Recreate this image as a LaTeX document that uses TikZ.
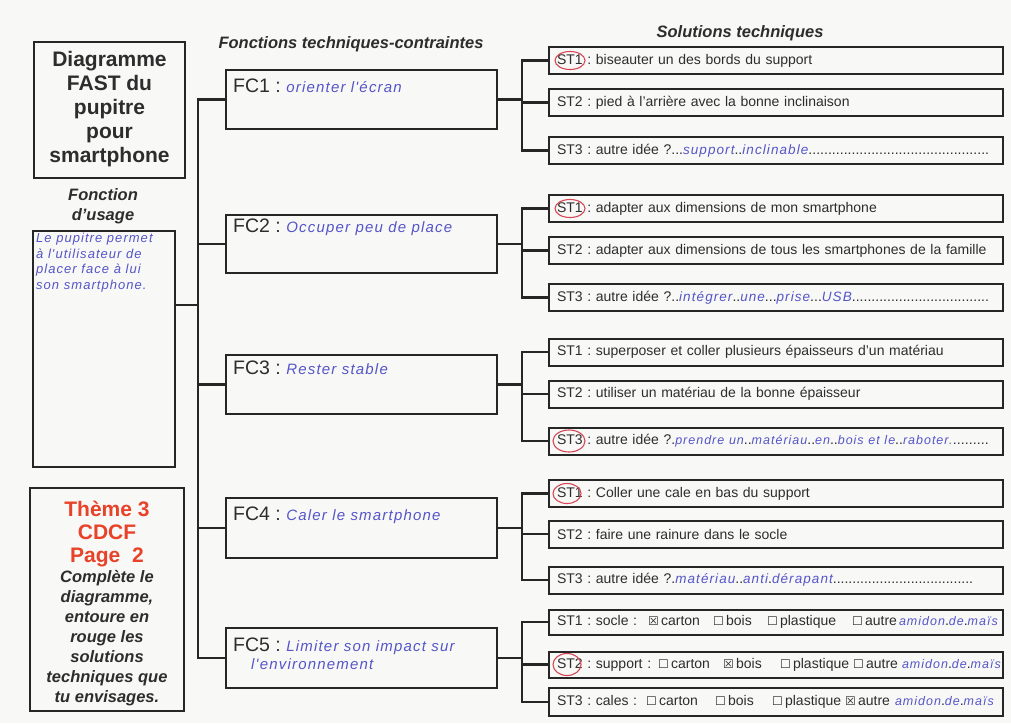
\documentclass[tikz,border=0pt]{standalone}
\usepackage{fontspec}
\setmainfont{Liberation Sans}
\newfontfamily\symfont{DejaVu Sans}
\newfontfamily\handfont[LetterSpace=8]{Liberation Sans}
\frenchspacing
\definecolor{bg}{RGB}{248,248,247}
\definecolor{ink}{RGB}{45,45,45}
\definecolor{lin}{RGB}{38,38,38}
\definecolor{hand}{RGB}{85,85,200}
\definecolor{redt}{RGB}{232,66,40}
\definecolor{redc}{RGB}{215,70,85}
\newcommand{\hwl}[1]{{\handfont\itshape\fontsize{15}{17}\selectfont\color{hand}#1}}
\newcommand{\hw}[1]{{\handfont\itshape\fontsize{13.5}{15}\selectfont\color{hand}#1}}
\newcommand{\hwsm}[1]{{\handfont\itshape\fontsize{12.5}{13}\selectfont\color{hand}#1}}
\newcommand{\cbo}{{\symfont\fontsize{12}{14}\selectfont\char"2610}}
\newcommand{\cbx}{{\symfont\fontsize{12}{14}\selectfont\char"2612}}
\newcommand{\dfill}{\xleaders\hbox{.}\hfill}
\tikzset{
  box/.style={draw=lin, line width=2pt, inner sep=0pt},
  fcbox/.style={box, minimum width=271pt},
  stbox/.style={box, minimum width=454pt, minimum height=27pt, text width=438pt, inner xsep=8pt, align=left, text=ink, font=\fontsize{14}{16}\selectfont},
  fclabel/.style={anchor=north west, inner sep=0pt, align=left, text=ink, font=\fontsize{19.5}{20}\selectfont},
  hdr/.style={inner sep=0pt, text=ink, font=\fontsize{16.5}{19.5}\selectfont\bfseries\itshape, align=center},
  conn/.style={draw=lin, line width=2.6pt},
  circ/.style={draw=redc, line width=1.1pt},
}
\begin{document}
\begin{tikzpicture}[x=1pt,y=-1pt]
\fill[bg] (0,0) rectangle (1011,723);
\useasboundingbox (0,0) rectangle (1011,723);

% left column
\node[box, minimum width=151pt, minimum height=136pt, align=center, text=ink, font=\fontsize{21}{24}\selectfont\bfseries] (title) at (109.5,109.5) {Diagramme\\FAST du\\pupitre\\pour\\smartphone};
\node[hdr] (usagehead) at (103,206) {Fonction\\d'usage};
\node[box, minimum width=142pt, minimum height=236pt] (usage) at (104,349) {};
\node[anchor=north west, inner sep=0pt, align=left, text=hand, font=\handfont\itshape\fontsize{13}{15.5}\selectfont] (usaget) at ([xshift=4pt,yshift=-3pt]usage.north west) {Le pupitre permet\\à l'utilisateur de\\placer face à lui\\son smartphone.};
\node[box, minimum width=154pt, minimum height=223pt] (theme) at (107,599.5) {};
\node[inner sep=0pt, align=center, text=redt, font=\fontsize{21}{23}\selectfont\bfseries] (themer) at (107,534) {Thème 3\\CDCF\\Page\ \ 2};
\node[inner sep=0pt, align=center, text=ink, font=\fontsize{16.5}{20}\selectfont\bfseries\itshape] (themet) at (107,638) {Complète le\\diagramme,\\entoure en\\rouge les\\solutions\\techniques que\\tu envisages.};

% headers
\node[hdr] (hfc) at (351,44) {Fonctions techniques-contraintes};
\node[hdr] (hst) at (740,33) {Solutions techniques};

% FC boxes
\node[fcbox, minimum height=59pt] (fc1) at (361.5,99.5) {};
\node[fcbox, minimum height=58pt] (fc2) at (361.5,244) {};
\node[fcbox, minimum height=59pt] (fc3) at (361.5,384.5) {};
\node[fcbox, minimum height=60pt] (fc4) at (361.5,528) {};
\node[fcbox, minimum height=60pt] (fc5) at (361.5,658) {};
\node[fclabel] (fc1t) at ([xshift=8pt,yshift=-10pt]fc1.north west) {FC1 : \hwl{orienter l'écran}};
\node[fclabel] (fc2t) at ([xshift=8pt,yshift=-5pt]fc2.north west) {FC2 : \hwl{Occuper peu de place}};
\node[fclabel] (fc3t) at ([xshift=8pt,yshift=-7pt]fc3.north west) {FC3 : \hwl{Rester stable}};
\node[fclabel] (fc4t) at ([xshift=8pt,yshift=-10pt]fc4.north west) {FC4 : \hwl{Caler le smartphone}};
\node[fclabel] (fc5t) at ([xshift=8pt,yshift=-11pt]fc5.north west) {FC5 : \hwl{Limiter son impact sur}\\[-2pt]\hspace*{18pt}\hwl{l'environnement}};

% ST boxes
\node[stbox] (st11) at (776,60.5) {ST1 : biseauter un des bords du support};
\node[stbox] (st12) at (776,102.5) {ST2 : pied à l'arrière avec la bonne inclinaison};
\node[stbox] (st13) at (776,150.5) {\makebox[432pt][s]{ST3 : autre idée ?...\hw{support}..\hw{inclinable}\dfill}};

\node[stbox] (st21) at (776,208.5) {ST1 : adapter aux dimensions de mon smartphone};
\node[stbox] (st22) at (776,250.5) {ST2 : adapter aux dimensions de tous les smartphones de la famille};
\node[stbox] (st23) at (776,297.5) {\makebox[432pt][s]{ST3 : autre idée ?..\hw{intégrer}..\hw{une}...\hw{prise}...\hw{USB}\dfill}};

\node[stbox] (st31) at (776,352) {ST1 : superposer et coller plusieurs épaisseurs d'un matériau};
\node[stbox] (st32) at (776,394) {ST2 : utiliser un matériau de la bonne épaisseur};
\node[stbox] (st33) at (776,441) {\makebox[432pt][s]{ST3 : autre idée ?.\hwsm{prendre un}..\hwsm{matériau}..\hwsm{en}..\hwsm{bois et le}..\hwsm{raboter.}\dfill}};

\node[stbox] (st41) at (776,493.5) {ST1 : Coller une cale en bas du support};
\node[stbox] (st42) at (776,534) {ST2 : faire une rainure dans le socle};
\node[stbox] (st43) at (776,580) {\makebox[416pt][s]{ST3 : autre idée ?.\hw{matériau}..\hw{anti}.\hw{dérapant}\dfill}};

\node[stbox, minimum height=25pt] (st51) at (776,622) {\makebox[91pt][l]{ST1 : socle :}\makebox[65pt][l]{\cbx\,carton}\makebox[54pt][l]{\cbo\,bois}\makebox[85pt][l]{\cbo\,plastique}\makebox[47pt][l]{\cbo\,autre}\hwsm{amidon}.\hwsm{de}.\hwsm{maïs}};
\node[stbox, minimum height=26pt] (st52) at (776,664.5) {\makebox[101pt][l]{ST2 : support :}\makebox[65pt][l]{\cbo\,carton}\makebox[57pt][l]{\cbx\,bois}\makebox[73pt][l]{\cbo\,plastique}\makebox[49pt][l]{\cbo\,autre}\hwsm{amidon}.\hwsm{de}.\hwsm{maïs}};
\node[stbox, minimum height=28pt] (st53) at (776,702) {\makebox[89pt][l]{ST3 : cales :}\makebox[69pt][l]{\cbo\,carton}\makebox[57pt][l]{\cbo\,bois}\makebox[73pt][l]{\cbo\,plastique}\makebox[50pt][l]{\cbx\,autre}\hwsm{amidon}.\hwsm{de}.\hwsm{maïs}};

% red circles
\draw[circ] ([xshift=22pt]st11.west) ellipse [x radius=15pt, y radius=9pt];
\draw[circ] ([xshift=22pt]st21.west) ellipse [x radius=15pt, y radius=9pt];
\draw[circ] ([xshift=21pt]st33.west) ellipse [x radius=16pt, y radius=11pt];
\draw[circ] ([xshift=19pt]st41.west) ellipse [x radius=14pt, y radius=10pt];
\draw[circ] ([xshift=19pt]st52.west) ellipse [x radius=14pt, y radius=11pt];

% left trunk
\coordinate (tr) at (198,0);
\coordinate (uj) at ([yshift=-75pt]usage.north east);
\draw[conn] (fc1.west) -- (fc1.west -| tr) -- (fc5.west -| tr) -- (fc5.west);
\foreach \f in {fc2,fc3,fc4} \draw[conn] (\f.west) -- (\f.west -| tr);
\draw[conn] (uj) -- (uj -| tr);

% right branches
\coordinate (br) at (522,0);
\foreach \g in {1,...,5}{
  \draw[conn] (fc\g.east) -- (fc\g.east -| br);
  \draw[conn] (st\g1.west) -- (st\g1.west -| br) -- (st\g3.west -| br) -- (st\g3.west);
  \draw[conn] (st\g2.west) -- (st\g2.west -| br);
}
\end{tikzpicture}
\end{document}
